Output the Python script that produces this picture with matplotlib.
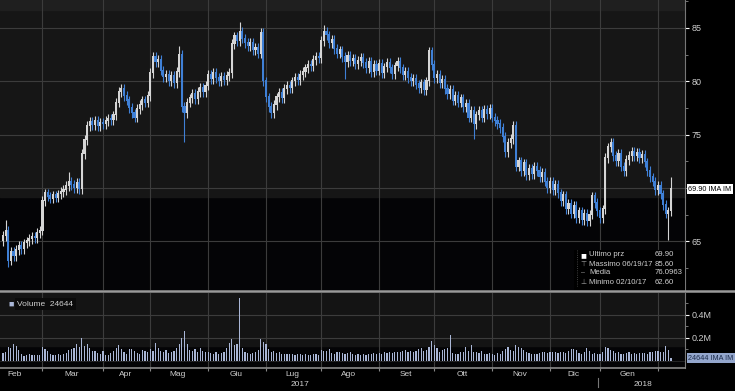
import numpy as np
import pandas as pd
import matplotlib
matplotlib.use("Agg")
import matplotlib.pyplot as plt

plt.rcParams["font.family"] = ["Liberation Sans", "DejaVu Sans"]

# trading calendar (Borsa Italiana holidays removed)
holidays = ["2017-04-14", "2017-04-17", "2017-05-01", "2017-08-15",
            "2017-12-25", "2017-12-26", "2018-01-01"]
dates = pd.bdate_range("2017-02-08", "2018-02-08")
dates = dates[~dates.isin(pd.to_datetime(holidays))]

# daily closes, month by month
close_feb = [65.5, 66.0, 63.2, 64.0, 63.6, 64.2, 64.6, 64.3, 64.8, 65.0, 65.2, 65.4, 65.3, 65.8, 66.0]
close_mar = [68.8, 69.5, 69.2, 69.0, 69.3, 69.1, 69.4, 69.6, 69.8, 70.2, 70.6, 70.3, 70.0, 70.5, 69.9,
             73.2, 74.5, 75.8, 76.2, 75.9, 76.3, 75.8, 76.1]
close_apr = [76.0, 76.3, 76.5, 76.4, 76.8, 78.0, 79.0, 79.3, 78.6, 78.2, 77.5, 77.0, 76.6, 77.4, 77.8,
             78.2, 78.0, 78.6]
close_may = [80.8, 82.3, 81.8, 82.0, 81.0, 80.4, 80.6, 80.0, 80.5, 79.8, 80.9, 82.5, 77.6, 77.0, 78.0,
             78.4, 78.8, 78.3, 79.0, 79.4, 79.0, 79.6]
close_jun = [80.6, 80.2, 80.8, 80.3, 80.0, 80.4, 80.1, 80.5, 80.8, 83.5, 84.2, 83.8, 84.6, 84.0, 83.6,
             83.3, 83.6, 82.9, 83.1, 82.6, 84.5, 80.0]
close_jul = [78.5, 77.6, 77.0, 77.8, 78.5, 78.9, 78.4, 79.3, 79.6, 79.4, 80.0, 80.3, 80.1, 80.6, 80.9,
             81.2, 81.5, 81.4, 82.0, 82.3, 82.2]
close_aug = [83.8, 84.6, 84.3, 83.6, 83.9, 83.0, 82.6, 82.9, 82.3, 81.8, 82.4, 81.9, 82.1, 81.6, 81.9,
             82.2, 81.7, 81.2, 81.8, 80.9, 81.5, 81.0]
close_sep = [81.6, 80.8, 81.3, 81.7, 81.2, 80.7, 81.4, 81.8, 81.2, 80.6, 80.9, 80.3, 80.0, 80.2, 79.7,
             79.4, 79.8, 79.2, 80.0, 82.8, 81.5]
close_oct = [80.3, 80.6, 79.8, 80.1, 79.3, 78.8, 79.2, 78.2, 78.6, 78.0, 78.4, 77.6, 77.9, 76.6, 77.2,
             76.0, 76.8, 77.2, 76.6, 77.3, 76.9, 77.4]
close_nov = [76.6, 76.3, 76.0, 75.6, 74.8, 73.4, 74.2, 74.6, 75.8, 72.0, 72.5, 71.6, 72.3, 71.2, 71.8,
             71.3, 72.0, 71.6, 71.0, 71.4, 70.6, 70.0]
close_dec = [70.6, 69.8, 70.3, 69.5, 68.8, 69.3, 68.0, 68.5, 67.6, 68.3, 67.2, 67.8, 67.0, 67.6, 66.9,
             67.5, 69.2, 68.6, 67.8]
close_jan = [67.2, 68.0, 72.8, 73.8, 74.2, 73.0, 72.5, 73.2, 72.0, 71.6, 72.6, 73.0, 73.4, 73.0, 73.3,
             72.8, 73.1, 72.4, 71.6, 71.0, 70.6, 69.8]
close_feb18 = [70.2, 69.4, 68.4, 67.6, 67.8, 69.9]

# volume in thousands
vol_feb = [70, 75, 120, 115, 150, 130, 95, 60, 45, 55, 60, 50, 55, 48, 52]
vol_mar = [125, 100, 85, 60, 55, 50, 58, 52, 60, 70, 95, 100, 110, 150, 120, 200, 130, 150, 110, 90,
           85, 70, 65]
vol_apr = [90, 55, 50, 70, 85, 110, 140, 100, 75, 60, 100, 105, 90, 70, 60, 95, 85, 75]
vol_may = [100, 90, 160, 110, 85, 80, 95, 70, 80, 90, 110, 150, 200, 260, 150, 95, 90, 100, 80, 110,
           90, 75]
vol_jun = [80, 70, 65, 75, 60, 70, 80, 110, 160, 190, 140, 150, 550, 110, 75, 70, 65, 70, 80, 95,
           190, 165]
vol_jul = [150, 100, 80, 85, 70, 75, 65, 60, 62, 58, 60, 55, 62, 58, 55, 60, 55, 50, 58, 60, 55]
vol_aug = [95, 85, 90, 105, 70, 65, 80, 75, 72, 60, 68, 80, 62, 55, 60, 50, 58, 55, 65, 60, 70, 62]
vol_sep = [70, 65, 80, 72, 75, 68, 82, 75, 80, 90, 95, 80, 85, 78, 90, 100, 110, 85, 95, 120, 170]
vol_oct = [140, 110, 75, 95, 100, 115, 225, 70, 60, 65, 80, 75, 120, 85, 135, 80, 75, 70, 85, 65,
           60, 72]
vol_nov = [60, 55, 70, 65, 90, 100, 120, 95, 85, 140, 125, 110, 95, 80, 70, 65, 60, 65, 70, 75, 80, 70]
vol_dec = [75, 80, 78, 70, 82, 75, 70, 85, 100, 100, 95, 70, 65, 75, 110, 85, 65, 70, 60]
vol_jan = [60, 80, 125, 110, 95, 85, 70, 75, 65, 60, 70, 75, 65, 70, 60, 72, 68, 70, 62, 75, 80, 85]
vol_feb18 = [90, 80, 75, 130, 95, 24.644]

first_open = 65.0
# intraday extremes that stand out (index: (high, low))
extremes = {1: (67.0, None), 2: (None, 62.6), 25: (71.5, None), 67: (83.3, None), 69: (None, 74.3),
            90: (85.6, None), 122: (85.3, None), 130: (None, 80.2), 162: (83.2, None),
            179: (None, 74.6), 253: (None, 65.1), 254: (71.0, None)}

month_names = ["Feb", "Mar", "Apr", "Mag", "Giu", "Lug", "Ago", "Set", "Ott", "Nov", "Dic", "Gen"]

closes = np.array(close_feb + close_mar + close_apr + close_may + close_jun + close_jul + close_aug
                  + close_sep + close_oct + close_nov + close_dec + close_jan + close_feb18)
volume = np.array(vol_feb + vol_mar + vol_apr + vol_may + vol_jun + vol_jul + vol_aug + vol_sep
                  + vol_oct + vol_nov + vol_dec + vol_jan + vol_feb18) * 1000
opens = np.concatenate([[first_open], closes[:-1]])
highs = np.maximum(opens, closes) + 0.45
lows = np.minimum(opens, closes) - 0.45
for k, (h, l) in extremes.items():
    if h is not None:
        highs[k] = h
    if l is not None:
        lows[k] = l

idx = np.arange(len(closes))
up = closes >= opens
col_up = "#d5d5d5"
col_dn = "#3f80d6"
colors = np.where(up, col_up, col_dn)

fig = plt.figure(figsize=(7.35, 3.91), dpi=100, facecolor="black")
ax = fig.add_axes([0, 1 - 290 / 391, 685 / 735, 290 / 391])
axv = fig.add_axes([0, 1 - 368 / 391, 685 / 735, 75 / 391])

xmin, xmax = -1.14, 259.3
grid_col = "#3c3c3c"
txt_col = "#cfcfcf"

# price panel
ax.set_facecolor("#040406")
ax.set_xlim(xmin, xmax)
ax.set_ylim(60.44, 87.62)
ax.axhspan(69.15, 90, color="#161616", zorder=0)
ax.axhspan(86.7, 90, color="#1f1f1f", zorder=0)

month_start = [i for i in range(1, len(dates)) if dates[i].month != dates[i - 1].month]
for m in month_start:
    ax.axvline(m, color=grid_col, lw=0.8, zorder=1)
    axv.axvline(m, color=grid_col, lw=0.8, zorder=1)
for lvl in [65, 70, 75, 80, 85]:
    ax.axhline(lvl, color=grid_col, lw=0.8, zorder=1)

ax.vlines(idx, lows, highs, colors=colors, lw=0.8, zorder=3)
ax.bar(idx, np.abs(closes - opens) + 0.1, bottom=np.minimum(opens, closes), width=0.8,
       color=colors, zorder=4, linewidth=0)

ax.yaxis.tick_right()
ax.set_yticks([65, 75, 80, 85])
ax.set_yticks(np.arange(62.5, 87.6, 2.5), minor=True)
ax.tick_params(axis="y", colors="white", labelcolor=txt_col, labelsize=6.5, length=3, width=0.8,
               direction="out", pad=2)
ax.tick_params(axis="y", which="minor", colors="#888888", length=2)
ax.set_xticks([])
for s in ["top", "left", "bottom"]:
    ax.spines[s].set_visible(False)
ax.spines["right"].set_color("#777777")

# last price tag
ax.text(1.005, 69.9, "69.90 IMA IM", transform=ax.get_yaxis_transform(), fontsize=5.2,
        color="black", va="center", ha="left",
        bbox=dict(boxstyle="square,pad=0.2", fc="white", ec="none"), clip_on=False)

# legend box
leg = dict(transform=ax.transAxes, fontsize=5.6, color=txt_col, va="center")
ax.add_patch(plt.Rectangle((574 / 685, 0.0), 111 / 685, 40 / 290, transform=ax.transAxes,
                           fc="black", ec="none", zorder=5))
rows_y = [1 - 255 / 290, 1 - 264 / 290, 1 - 273 / 290, 1 - 282 / 290]
rows = [("Ultimo prz", "69.90"), ("Massimo 06/19/17", "85.60"), ("Media", "76.0963"),
        ("Minimo 02/10/17", "62.60")]
marks = ["\u25A0", "\u22A4", "\u2013", "\u22A5"]
for (lab, val), yy, mk in zip(rows, rows_y, marks):
    ax.text(589 / 685, yy, lab, zorder=6, **leg)
    ax.text(655 / 685, yy, val, zorder=6, **leg)
    ax.text(583 / 685, yy, mk, transform=ax.transAxes, fontsize=7 if mk == "\u25A0" else 5,
            color="white" if mk == "\u25A0" else "#999999", va="center", ha="center", zorder=6)
ax.plot([577 / 685, 577 / 685], [1 - 250 / 290, 1 - 286 / 290], transform=ax.transAxes,
        color="#555555", lw=0.6, ls=":", zorder=6)

# volume panel
axv.set_facecolor("#040406")
axv.set_xlim(xmin, xmax)
axv.set_ylim(-0.061e6, 0.591e6)
axv.axhspan(0.13e6, 1e6, color="#141414", zorder=0)
for lvl in [0.2e6, 0.4e6]:
    axv.axhline(lvl, color=grid_col, lw=0.8, zorder=1)
axv.axhline(0, color="#2a2a2a", lw=0.6, zorder=1)
axv.bar(idx, volume, width=0.45, color="#a9b6d6", linewidth=0, zorder=3)

axv.yaxis.tick_right()
axv.set_yticks([0.2e6, 0.4e6])
axv.set_yticklabels(["0.2M", "0.4M"])
axv.set_yticks([0.1e6, 0.3e6, 0.5e6], minor=True)
axv.tick_params(axis="y", colors="white", labelcolor=txt_col, labelsize=6.5, length=3, width=0.8,
                pad=2)
axv.tick_params(axis="y", which="minor", colors="#888888", length=2)
axv.set_xticks(month_start)
axv.tick_params(axis="x", colors="#888888", length=2, width=0.8, labelbottom=False)
for s in ["top", "left"]:
    axv.spines[s].set_visible(False)
axv.spines["right"].set_color("#777777")
axv.spines["bottom"].set_color("#8a8a8a")
axv.spines["bottom"].set_linewidth(1.2)

axv.text(1.005, volume[-1], "24644 IMA IM", transform=axv.get_yaxis_transform(), fontsize=5.2,
         color="#1a2a4a", va="center", ha="left",
         bbox=dict(boxstyle="square,pad=0.2", fc="#93a6cc", ec="none"), clip_on=False)

axv.text(8 / 685, 1 - 11 / 75, "\u25A0", transform=axv.transAxes, fontsize=6.5, color="#a9b6d6",
         va="center", ha="left", zorder=6)
axv.text(17 / 685, 1 - 11 / 75, "Volume  24644", transform=axv.transAxes, fontsize=6,
         color=txt_col, va="center", ha="left", zorder=6,
         bbox=dict(boxstyle="square,pad=0.3", fc="#0b0b0b", ec="none"))

# month labels and years
bounds = [0] + month_start + [len(dates)]
xt = axv.get_xaxis_transform()
for k, name in enumerate(month_names):
    a, b = bounds[k], bounds[k + 1]
    centre = (a + b - 1) / 2 if k > 0 else 4.5
    axv.text(centre, -7 / 75, name, transform=xt, fontsize=6,
             color=txt_col, ha="center", va="center")
year_split = month_start[-2]  # first trading day of 2018
axv.text((xmin + year_split) / 2, -16.5 / 75, "2017", transform=xt, fontsize=6,
         color=txt_col, ha="center", va="center")
axv.text((year_split + xmax) / 2, -16.5 / 75, "2018", transform=xt, fontsize=6,
         color=txt_col, ha="center", va="center")
axv.plot([year_split - 0.7, year_split - 0.7], [-10 / 75, -19 / 75], transform=xt,
         color="#777777", lw=0.8, clip_on=False)

# panel separator
fig.add_artist(plt.Line2D([0, 1], [1 - 291 / 391, 1 - 291 / 391], color="#9a9a9a", lw=1.8))

fig.savefig("out.png", dpi=100, facecolor="black")
